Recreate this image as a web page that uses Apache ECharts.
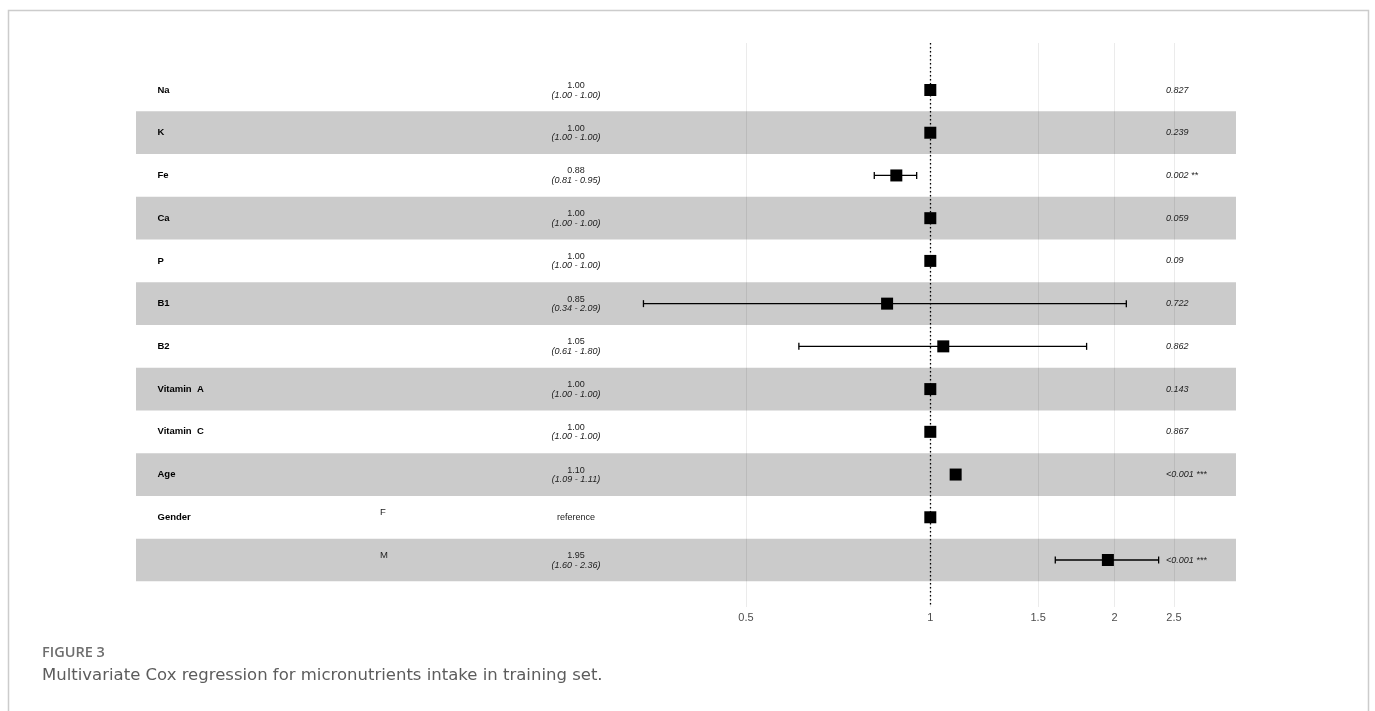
<!DOCTYPE html>
<html><head><meta charset="utf-8">
<script src="https://cdn.jsdelivr.net/npm/echarts@6/dist/echarts.min.js"></script>
<style>html,body{margin:0;padding:0;background:#fff}#c{width:1375px;height:711px}</style>
</head><body><div id="c"></div>
<script>
// ---- data ----
const variables = ['Na', 'K', 'Fe', 'Ca', 'P', 'B1', 'B2', 'Vitamin  A', 'Vitamin  C', 'Age', 'Gender', ''];
const levels = ['', '', '', '', '', '', '', '', '', '', 'F', 'M'];
const estimates = [1.00, 1.00, 0.88, 1.00, 1.00, 0.85, 1.05, 1.00, 1.00, 1.10, 1.00, 1.95];
const lower = [1.00, 1.00, 0.81, 1.00, 1.00, 0.34, 0.61, 1.00, 1.00, 1.09, null, 1.60];
const upper = [1.00, 1.00, 0.95, 1.00, 1.00, 2.09, 1.80, 1.00, 1.00, 1.11, null, 2.36];
const isReference = [false, false, false, false, false, false, false, false, false, false, true, false];
const pValues = ['0.827', '0.239', '0.002 **', '0.059', '0.09', '0.722', '0.862', '0.143', '0.867', '<0.001 ***', '', '<0.001 ***'];
const xTicks = [0.5, 1, 1.5, 2, 2.5];

// ---- layout (table columns in table-axis units) ----
const COL = { name: 21.5, level: 244, est: 440, p: 1030 };
const FONT = '"Liberation Sans", Arial, sans-serif';
const rows = variables.map((v, i) => i);

const chart = echarts.init(document.getElementById('c'), null, { renderer: 'canvas' });

const tableData = rows.map(i => [0, i]);

const option = {
  animation: false,
  backgroundColor: '#fff',
  grid: [
    { left: 136, width: 1100, top: 43, height: 564 },
    { left: 620, width: 616, top: 43, height: 564 }
  ],
  xAxis: [
    { gridIndex: 0, type: 'value', min: 0, max: 1100, show: false },
    {
      gridIndex: 1, type: 'log', logBase: 10, min: 0.3113, max: 3.157,
      axisLine: { show: false },
      axisTick: { show: false, customValues: xTicks },
      axisLabel: { customValues: xTicks, color: '#4d4d4d', fontSize: 11, fontFamily: FONT, margin: 5,
        formatter: v => String(+(+v).toFixed(2)) },
      splitLine: { show: true, lineStyle: { color: 'rgba(0,0,0,0.08)', width: 1 } }
    }
  ],
  yAxis: [
    { gridIndex: 0, type: 'value', inverse: true, min: -1.1, max: 12.1, show: false },
    { gridIndex: 1, type: 'value', inverse: true, min: -1.1, max: 12.1, show: false }
  ],
  series: [
    {
      // alternating bands
      type: 'custom', xAxisIndex: 0, yAxisIndex: 0, z: -1, silent: true,
      data: tableData,
      renderItem: (params, api) => {
        const i = params.dataIndex;
        if (i % 2 === 0) return null;
        const a = api.coord([0, i - 0.5]);
        const b = api.coord([1100, i + 0.5]);
        return { type: 'rect', shape: { x: a[0], y: a[1], width: b[0] - a[0], height: b[1] - a[1] },
          style: { fill: '#cbcbcb' } };
      }
    },
    {
      // table text
      type: 'custom', xAxisIndex: 0, yAxisIndex: 0, z: 3, silent: true,
      data: tableData,
      renderItem: (params, api) => {
        const i = params.dataIndex;
        const children = [];
        const pn = api.coord([COL.name, i]);
        children.push({ type: 'text', x: pn[0], y: pn[1], style: { text: variables[i], fill: '#000',
          font: 'bold 9.5px ' + FONT, align: 'left', verticalAlign: 'middle' } });
        const pl = api.coord([COL.level, i]);
        if (levels[i]) children.push({ type: 'text', x: pl[0], y: pl[1] - 4.5, style: { text: levels[i], fill: '#222',
          font: '9.5px ' + FONT, align: 'left', verticalAlign: 'middle' } });
        const pe = api.coord([COL.est, i]);
        if (isReference[i]) {
          children.push({ type: 'text', x: pe[0], y: pe[1], style: { text: 'reference', fill: '#222',
            font: '9px ' + FONT, align: 'center', verticalAlign: 'middle' } });
        } else {
          children.push({ type: 'text', x: pe[0], y: pe[1] - 4.5, style: { text: estimates[i].toFixed(2), fill: '#222',
            font: '9px ' + FONT, align: 'center', verticalAlign: 'middle' } });
          children.push({ type: 'text', x: pe[0], y: pe[1] + 5, style: {
            text: '(' + lower[i].toFixed(2) + ' - ' + upper[i].toFixed(2) + ')', fill: '#222',
            font: 'italic 9px ' + FONT, align: 'center', verticalAlign: 'middle' } });
        }
        const pp = api.coord([COL.p, i]);
        if (pValues[i]) children.push({ type: 'text', x: pp[0], y: pp[1], style: { text: pValues[i], fill: '#222',
          font: 'italic 9px ' + FONT, align: 'left', verticalAlign: 'middle' } });
        return { type: 'group', children };
      }
    },
    {
      // confidence intervals
      type: 'custom', xAxisIndex: 1, yAxisIndex: 1, z: 4, silent: true,
      data: rows.map(i => [lower[i] == null ? estimates[i] : lower[i], upper[i] == null ? estimates[i] : upper[i], i]),
      encode: { x: [0, 1], y: 2 },
      renderItem: (params, api) => {
        const i = params.dataIndex;
        if (lower[i] == null) return null;
        const a = api.coord([api.value(0), api.value(2)]);
        const b = api.coord([api.value(1), api.value(2)]);
        const st = { stroke: '#000', lineWidth: 1.3 };
        return { type: 'group', children: [
          { type: 'line', shape: { x1: a[0], y1: a[1], x2: b[0], y2: b[1] }, style: st },
          { type: 'line', shape: { x1: a[0], y1: a[1] - 3.5, x2: a[0], y2: a[1] + 3.5 }, style: st },
          { type: 'line', shape: { x1: b[0], y1: b[1] - 3.5, x2: b[0], y2: b[1] + 3.5 }, style: st }
        ] };
      }
    },
    {
      type: 'scatter', xAxisIndex: 1, yAxisIndex: 1, z: 5, silent: true,
      symbol: 'rect', symbolSize: 12,
      itemStyle: { color: '#000', opacity: 1 },
      data: rows.map(i => [estimates[i], i]),
      markLine: {
        silent: true, symbol: 'none', label: { show: false },
        lineStyle: { type: [1.5, 2.5], color: '#000', width: 1.3 },
        data: [{ xAxis: 1 }]
      }
    }
  ],
  graphic: [
    { type: 'rect', silent: true, z: 10,
      shape: { x: 8.5, y: 10.5, width: 1360, height: 760 },
      style: { fill: 'none', stroke: '#cccccc', lineWidth: 1.5 } },
    { type: 'text', x: 42, y: 653, silent: true,
      style: { text: 'FIGURE 3', fill: '#6e6e6e', font: '600 14.5px "Open Sans", sans-serif', verticalAlign: 'middle' } },
    { type: 'text', x: 42, y: 676, silent: true,
      style: { text: 'Multivariate Cox regression for micronutrients intake in training set.', fill: '#5c5c5c',
        font: '16.5px "DejaVu Sans", sans-serif', verticalAlign: 'middle' } }
  ]
};
chart.setOption(option);
</script>
</body></html>
